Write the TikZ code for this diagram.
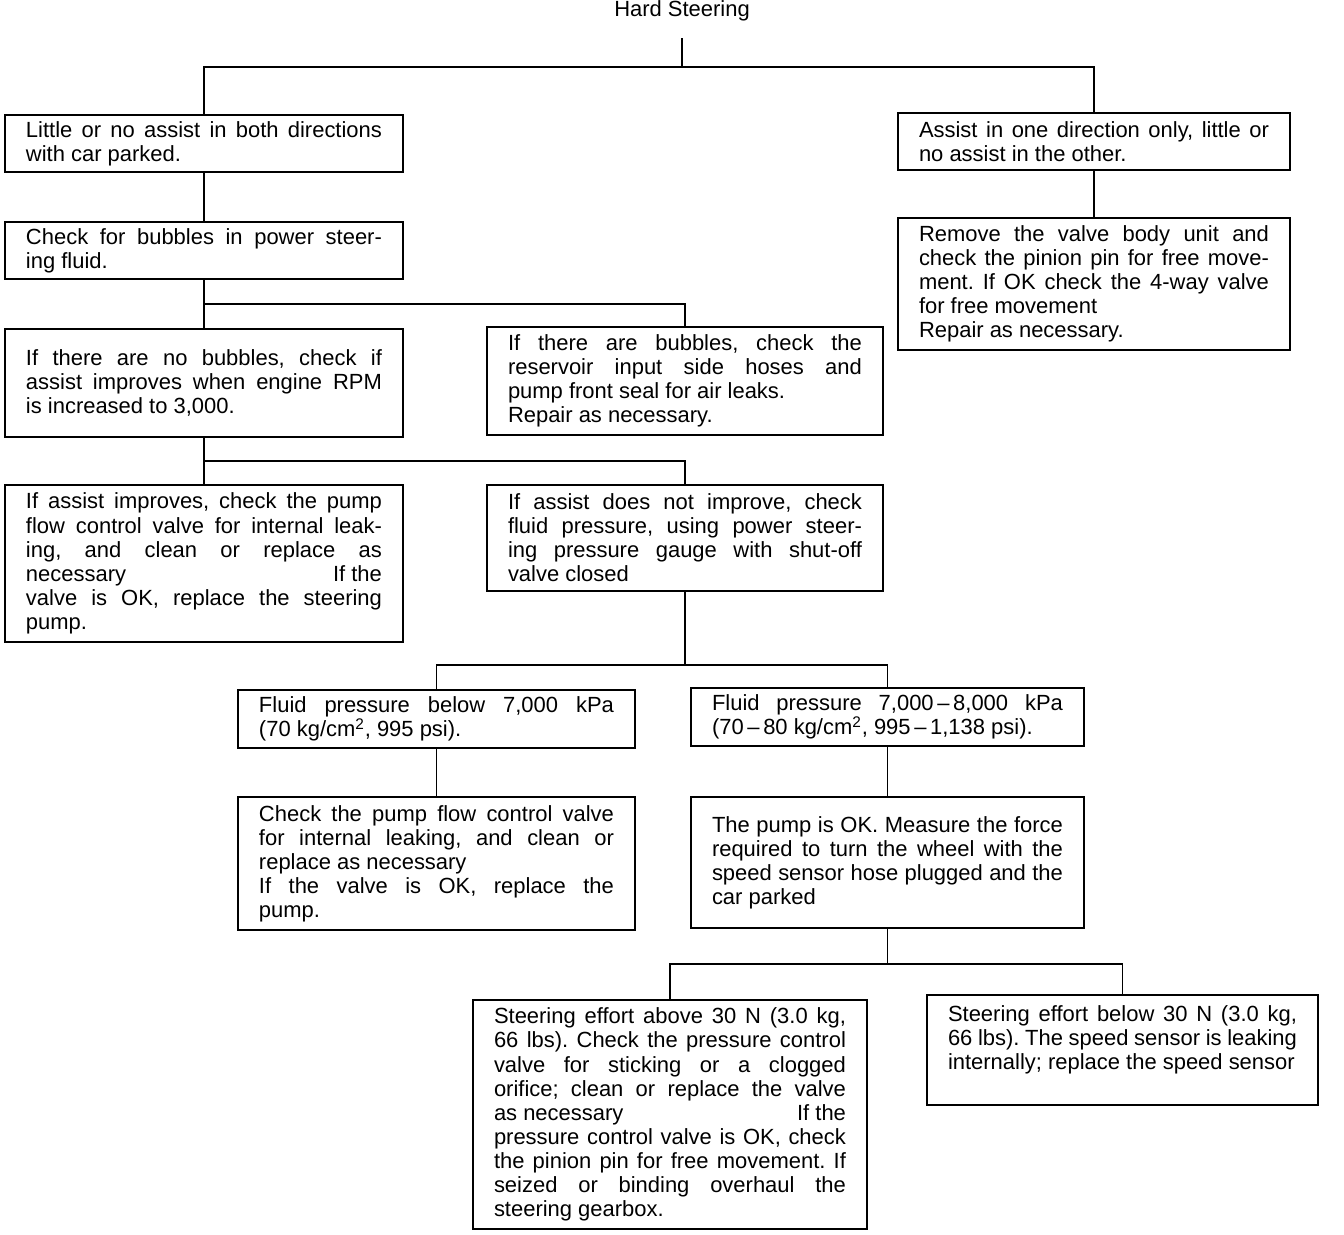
\documentclass[tikz,border=0pt]{standalone}
\usepackage{fontspec}
\setmainfont{Liberation Sans}
\usetikzlibrary{positioning,calc}
\frenchspacing
\newcommand{\sqcm}{kg/cm\textsuperscript{2}}
\newcommand{\txt}{\fontsize{12.5}{13.7}\selectfont}

\begin{document}
\begin{tikzpicture}[
  x=0.02cm, y=-0.02cm,
  every node/.style={inner sep=0pt, outer sep=0pt, text=black},
  box/.style={draw, line width=1.1pt, align=justify, anchor=north west,
              inner xsep=0.42cm, text width=#1, font=\txt},
  link/.style={line width=1pt},
]
\useasboundingbox (0,0) rectangle (1344,1234);

% ---------------------------------------------------------------- geometry
\def\ja{67}    % split below the title
\def\jb{304}   % split below the bubble check
\def\jc{461}   % split below the RPM check
\def\jd{665}   % split below the pressure check
\def\je{964}   % split below the effort check
\coordinate (ja) at (0,\ja);
\coordinate (jb) at (0,\jb);
\coordinate (jc) at (0,\jc);
\coordinate (jd) at (0,\jd);
\coordinate (je) at (0,\je);

% ---------------------------------------------------------------- title
\node[font=\txt] (hs) at (682,11) {Hard Steering};

% ---------------------------------------------------------------- level 1
\node[box=7.12cm, minimum height=1.14cm] (both) at (5,115)
  {Little or no assist in both directions\linebreak with car parked.};
\node[box=7.0cm, minimum height=1.14cm] (one) at (898,113)
  {Assist in one direction only, little or\linebreak no assist in the other.};

% ---------------------------------------------------------------- level 2
\node[box=7.12cm, minimum height=1.14cm] (bub) at (5,222)
  {Check for bubbles in power steer-\linebreak ing fluid.};
\node[box=7.0cm, minimum height=2.64cm] (valve) at (898,218)
  {Remove the valve body unit and\linebreak check the pinion pin for free move-\linebreak
   ment. If OK check the 4-way valve\linebreak for free movement\par
   Repair as necessary.};

% ---------------------------------------------------------------- level 3
\node[box=7.12cm, minimum height=2.16cm] (nobub) at (5,329)
  {If there are no bubbles, check if\linebreak assist improves when engine RPM\linebreak
   is increased to 3,000.};
\node[box=7.08cm, minimum height=2.16cm] (yesbub) at (487,327)
  {If there are bubbles, check the\linebreak reservoir input side hoses and\linebreak
   pump front seal for air leaks.\par Repair as necessary.};

% ---------------------------------------------------------------- level 4
\node[box=7.12cm, minimum height=3.14cm] (impr) at (5,485)
  {If assist improves, check the pump\linebreak flow control valve for internal leak-\linebreak
   ing, and clean or replace as\linebreak necessary\hfill If the\linebreak
   valve is OK, replace the steering\linebreak pump.};
\node[box=7.08cm, minimum height=2.12cm] (noimpr) at (487,485)
  {If assist does not improve, check\linebreak fluid pressure, using power steer-\linebreak
   ing pressure gauge with shut-off\linebreak valve closed};

% ---------------------------------------------------------------- pressure
\node[box=7.1cm, minimum height=1.16cm] (plow) at (238,690)
  {Fluid pressure below 7,000 kPa\linebreak (70 \sqcm, 995 psi).};
\node[box=7.02cm, minimum height=1.16cm] (pok) at (691,688)
  {Fluid pressure 7,000\,--\,8,000 kPa\linebreak (70\,--\,80 \sqcm, 995\,--\,1,138 psi).};

\node[box=7.1cm, minimum height=2.66cm] (pumpchk) at (238,797)
  {Check the pump flow control valve\linebreak for internal leaking, and clean or\linebreak
   replace as necessary\par If the valve is OK, replace the\linebreak pump.};
\node[box=7.02cm, minimum height=2.62cm] (pumpok) at (691,797)
  {The pump is OK. Measure the force\linebreak required to turn the wheel with the\linebreak
   speed sensor hose plugged and the\linebreak car parked};

% ---------------------------------------------------------------- effort
\node[box=7.04cm, minimum height=4.58cm] (effhi) at (473,1000)
  {Steering effort above 30 N (3.0 kg,\linebreak 66 lbs). Check the pressure control\linebreak
   valve for sticking or a clogged\linebreak orifice; clean or replace the valve\linebreak
   as necessary\hfill If the\linebreak pressure control valve is OK, check\linebreak
   the pinion pin for free movement. If\linebreak seized or binding overhaul the\linebreak
   steering gearbox.};
\node[box=6.98cm, minimum height=2.2cm] (efflo) at (927,995)
  {Steering effort below 30 N (3.0 kg,\linebreak 66 lbs). The speed sensor is leaking\linebreak
   internally; replace the speed sensor\par\vspace{0.4cm}};

% ---------------------------------------------------------------- links
\draw[line width=0.6pt] ($(hs.south)+(0,17)$) -- (hs.south |- ja);
\draw[link] (both.north) -- (both.north |- ja) -| (one.north);
\draw[link] (both) -- (bub);
\draw[link] (one) -- (valve);
\draw[link] (bub.south) -- (bub.south |- jb);
\draw[link] (nobub.north) -- (nobub.north |- jb) -| (yesbub.north);
\draw[link] (nobub.south) -- (nobub.south |- jc);
\draw[link] (impr.north) -- (impr.north |- jc) -| (noimpr.north);
\draw[link] (noimpr.south) -- (noimpr.south |- jd);
\draw[link] (plow.north) -- (plow.north |- jd) -| (pok.north);
\draw[link] (plow) -- (pumpchk);
\draw[link] (pok) -- (pumpok);
\draw[link] (pumpok.south) -- (pumpok.south |- je);
\draw[link] (effhi.north) -- (effhi.north |- je) -| (efflo.north);

\end{tikzpicture}
\end{document}
